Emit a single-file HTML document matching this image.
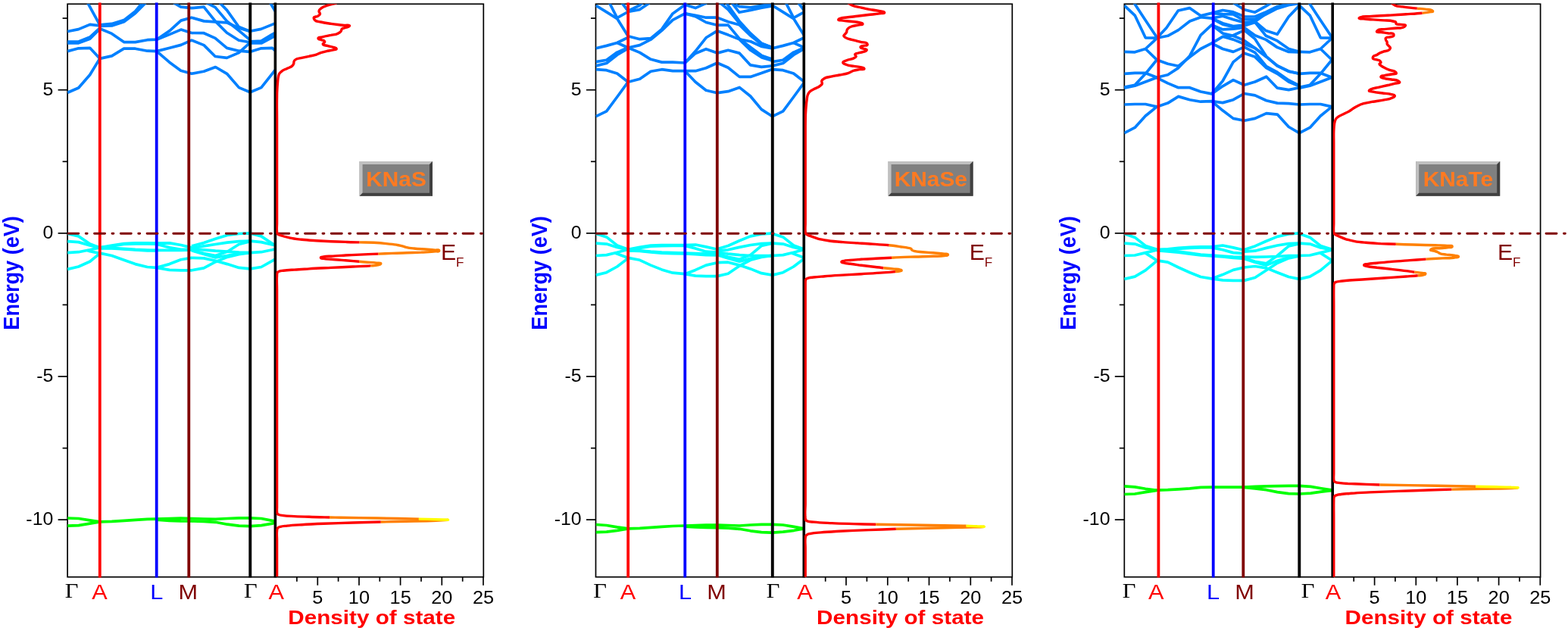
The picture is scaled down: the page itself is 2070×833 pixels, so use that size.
<!DOCTYPE html>
<html lang="en">
<head>
<meta charset="utf-8">
<title>Band structure and density of state: KNaS, KNaSe, KNaTe</title>
<style>
html,body{margin:0;padding:0;background:#fff;}
body{width:2070px;height:833px;overflow:hidden;}
svg{display:block;}
text{font-family:"Liberation Sans",sans-serif;}
.tk{font-size:24.4px;fill:#000;}
.kl{font-size:27.2px;}
.kg{font-family:"Liberation Serif",serif;font-size:27.8px;}
.dt{font-size:26.5px;font-weight:bold;fill:#ff0000;}
.et{font-size:27.1px;font-weight:bold;fill:#0000ff;}
.ef{font-size:28.8px;fill:#800000;}
.lg{font-size:27.6px;font-weight:bold;fill:#ff7a21;}
</style>
</head>
<body>
<svg width="2070" height="833" viewBox="0 0 2070 833">
<defs><clipPath id="clipall"><rect x="0" y="5.3" width="2070" height="756.4"/></clipPath></defs>
<rect width="2070" height="833" fill="#ffffff"/>
<g id="p1">
<clipPath id="bcKNaS"><rect x="89.1" y="5.3" width="274.7" height="756.4"/></clipPath>
<rect x="89.1" y="5.3" width="549.2" height="756.4" fill="none" stroke="#000" stroke-width="1.7"/>
<g fill="none" stroke="#0080ff" stroke-width="3.7" stroke-linejoin="round" stroke-linecap="butt" clip-path="url(#bcKNaS)">
<polyline points="89.2,122.3 103.7,116.0 118.7,98.7 131.7,77.4 147.6,73.9 163.6,64.2 178.6,64.2 194.5,67.2 206.8,67.6 223.7,82.2 238.7,93.3 253.1,97.2 269.1,94.3 284.5,88.5 300.0,97.7 315.5,115.6 330.2,121.8 344.9,115.6 363.3,92.4"/>
<polyline points="89.2,67.6 103.7,63.8 118.7,63.3 131.7,77.3"/>
<polyline points="206.8,67.6 224.0,63.3 238.9,59.4 252.9,53.1 269.2,59.6 284.1,74.5 299.5,76.4 315.3,69.6 329.7,56.7"/>
<polyline points="89.2,55.1 103.7,54.9 118.7,49.1 131.7,37.0"/>
<polyline points="89.2,57.0 103.7,56.8 118.7,51.2 131.7,38.2"/>
<polyline points="89.2,41.5 103.7,38.6 118.7,32.4 131.7,33.8"/>
<polyline points="115.3,2.9 131.7,32.9"/>
<polyline points="131.7,32.9 147.6,31.4 163.6,26.6 178.6,15.0 187.7,3.9"/>
<polyline points="131.7,34.3 147.6,34.0 163.6,28.7 178.6,17.4 192.1,3.9"/>
<polyline points="131.7,37.7 147.6,44.4 163.6,55.6 178.6,55.6 194.5,52.7 206.8,52.2 224.0,40.6 238.9,27.1 252.9,23.2 269.2,27.9 284.1,28.8 299.5,29.8 315.3,37.0 329.7,41.3 344.6,38.4 359.4,32.4 363.8,30.7"/>
<polyline points="206.8,52.2 224.0,45.4 238.9,39.1 252.9,43.5 269.2,43.7 284.1,50.4 299.5,63.4 315.3,67.2 329.7,68.4 344.9,63.8 359.4,63.3 363.8,67.2"/>
<polyline points="228.0,2.9 238.7,9.2 253.1,10.6 269.1,9.2 284.1,27.9 299.5,43.2 315.3,53.3 329.7,55.7"/>
<polyline points="269.2,1.9 284.1,9.6 299.5,27.9 315.3,40.4 329.7,52.4"/>
<polyline points="288.4,1.9 299.5,13.4 315.3,35.5 329.7,41.3"/>
<polyline points="330.2,54.9 344.9,54.1 359.4,45.4 363.8,43.0"/>
<polyline points="330.2,57.0 344.9,57.0 359.4,49.3 363.8,46.9"/>
<polyline points="355.6,1.9 363.8,15.5"/>
</g>
<g fill="none" stroke="#00ffff" stroke-width="3.7" stroke-linejoin="round" stroke-linecap="butt" clip-path="url(#bcKNaS)">
<polyline points="89.2,308.5 103.7,311.9 118.7,322.1 131.7,326.9"/>
<polyline points="115.3,330.4 118.7,331.7 131.7,334.4"/>
<polyline points="89.2,318.7 103.7,319.6 118.7,324.0 131.7,326.9"/>
<polyline points="89.2,333.6 103.7,332.7 118.7,329.8 131.7,326.9"/>
<polyline points="89.2,355.4 103.7,352.0 118.7,345.2 131.7,334.6"/>
<polyline points="131.7,326.9 147.6,324.0 163.6,321.6 178.6,320.9 194.5,320.9 206.8,321.1 224.0,320.9 238.9,323.5 252.9,326.9"/>
<polyline points="131.7,327.1 147.6,324.8 163.6,322.5 178.6,321.9 194.5,321.9 206.8,322.2 224.0,326.9 238.9,329.3 252.9,329.3"/>
<polyline points="131.7,327.4 147.6,327.4 163.6,328.3 178.6,329.3 194.5,330.0 206.8,330.3 224.0,330.3 238.9,330.3 252.9,329.8"/>
<polyline points="131.7,327.9 147.6,328.0 163.6,329.0 178.6,330.0 194.5,330.8 206.8,330.9"/>
<polyline points="131.7,334.1 147.6,337.5 163.6,343.3 178.6,348.6 194.5,352.5 206.8,353.4"/>
<polyline points="206.8,353.4 223.7,348.6 238.7,342.8 253.1,340.4 269.1,340.9 284.5,344.3 300.0,348.6 315.5,353.4 330.2,354.9 344.9,352.5 359.4,344.3 363.8,341.9"/>
<polyline points="206.8,353.4 223.7,356.4 238.7,356.8 253.1,356.8 269.1,353.9 284.5,345.7 300.0,339.4 315.5,335.6 330.2,333.6"/>
<polyline points="253.1,324.9 269.1,320.6 284.5,315.3 300.0,310.5 315.5,308.5 330.2,307.9 344.9,311.9 359.4,321.6 363.8,324.0"/>
<polyline points="253.1,327.4 269.1,324.9 284.5,322.5 300.0,320.1 315.5,318.7 330.2,318.2 344.9,319.6 359.4,323.0 363.8,324.0"/>
<polyline points="253.1,328.8 269.1,329.8 284.5,331.2 300.0,332.2 315.5,333.2 330.2,333.6 344.9,332.7 359.4,329.8 363.8,328.8"/>
<polyline points="253.1,330.3 269.1,334.6 284.5,337.5 300.0,332.2 315.5,322.5 330.2,318.7"/>
<polyline points="253.1,330.8 269.1,335.6 284.5,339.9 300.0,337.5 315.5,334.6 330.2,333.6"/>
</g>
<g fill="none" stroke="#00ff00" stroke-width="3.7" stroke-linejoin="round" stroke-linecap="butt" clip-path="url(#bcKNaS)">
<polyline points="89.2,684.0 103.7,684.5 118.7,686.9 131.7,688.8 147.6,688.3 163.6,687.4 178.6,686.4 194.5,685.4 206.8,685.1 223.7,684.5 238.7,684.0 253.1,684.5 269.1,685.0 284.5,685.4 300.0,684.5 315.5,683.8 330.2,683.8 344.9,684.5 359.4,687.4 363.8,688.3"/>
<polyline points="89.2,694.1 103.7,693.6 118.7,691.2 131.7,689.0"/>
<polyline points="206.8,686.1 223.7,687.4 238.7,687.9 253.1,688.0 269.1,688.3 284.5,689.3 300.0,692.2 315.5,694.1 330.2,694.6 344.9,693.6 359.4,691.2 363.8,689.8"/>
</g>
<line x1="131.8" y1="3.5" x2="131.8" y2="762.5" stroke="#ff0000" stroke-width="3.8"/>
<line x1="206.7" y1="3.5" x2="206.7" y2="762.5" stroke="#0000ff" stroke-width="3.8"/>
<line x1="249.3" y1="3.5" x2="249.3" y2="762.5" stroke="#800000" stroke-width="3.8"/>
<line x1="330.3" y1="3.5" x2="330.3" y2="762.5" stroke="#000000" stroke-width="3.9"/>
<line x1="363.4" y1="3.5" x2="363.4" y2="762.5" stroke="#000000" stroke-width="3.6"/>
<line x1="89.1" y1="308.30" x2="638.3" y2="308.30" stroke="#800000" stroke-width="2.9" stroke-linecap="round" stroke-dasharray="14 9.45 1.9 9.4" stroke-dashoffset="-0.7"/>
<clipPath id="dcKNaS"><rect x="364.3" y="5.3" width="274.5" height="756.4"/></clipPath>
<g fill="none" stroke-width="3.4" stroke-linejoin="round" stroke-linecap="butt" clip-path="url(#dcKNaS)">
<path d="M444.7 3.9C440.4 5.0 436.3 5.7 432.1 7.2C429.4 8.2 426.6 8.8 424.4 10.6C423.0 11.7 421.2 12.8 421.0 14.5C420.8 15.9 422.8 17.0 422.5 18.4C422.2 19.7 420.7 20.4 419.6 21.3C418.0 22.4 414.4 21.7 414.2 23.7C414.2 24.8 415.0 25.7 415.7 26.6C417.4 28.7 420.8 28.3 423.4 29.0C427.9 30.2 432.3 30.7 437.0 31.4C442.2 32.2 447.2 32.6 452.4 33.3C455.4 33.7 463.2 32.5 461.1 34.6C460.1 35.6 458.6 35.7 457.2 36.2C455.3 37.0 452.8 36.6 451.4 38.2C450.6 39.1 450.8 40.5 450.0 41.5C448.9 43.0 447.2 43.7 445.6 44.4C442.9 45.8 439.9 45.7 437.0 46.4C433.0 47.2 429.2 47.6 425.4 48.8C423.5 49.4 419.7 48.8 420.1 50.7C420.3 52.3 423.0 51.9 424.4 52.7C425.9 53.4 428.7 53.4 428.7 55.1C428.8 56.4 426.4 56.7 426.3 58.0C426.1 60.1 430.1 59.7 432.1 60.4C435.0 61.4 438.0 61.4 440.8 62.6C442.0 63.1 444.0 63.0 444.2 64.2C444.5 65.8 441.4 65.4 439.9 65.9C437.0 66.8 434.1 67.0 431.2 67.6C428.5 68.2 426.0 68.7 423.4 69.6C421.4 70.3 419.7 71.4 417.6 72.1C414.4 73.2 411.3 73.6 408.0 74.3C404.7 75.0 401.6 75.7 398.3 76.4C395.7 77.1 392.8 76.8 390.6 78.4C389.6 79.0 388.7 79.7 388.2 80.8C387.6 81.8 388.1 83.1 387.7 84.2C387.3 85.3 386.6 86.2 385.8 87.0C384.0 88.9 381.3 89.3 379.0 90.4C376.7 91.6 374.3 92.2 372.2 93.8C370.9 94.8 369.7 95.8 368.8 97.2C368.0 98.5 367.8 100.0 367.4 101.5C366.8 103.8 366.8 106.0 366.6 108.3C366.3 111.6 366.0 114.7 365.9 118.0C365.7 121.3 365.6 124.3 365.6 127.6C365.3 137.5 365.6 146.8 365.6 156.6C365.6 164.2 365.6 171.4 365.6 179.1C365.6 218.5 365.6 255.6 365.6 295.0C365.6 298.8 365.0 302.4 365.6 306.1C365.7 306.9 365.6 307.7 365.9 308.3C366.4 309.0 367.2 309.4 367.9 309.8C368.9 310.4 370.1 310.6 371.3 311.0C374.8 312.3 378.2 313.0 381.9 313.8C387.4 315.0 392.7 315.6 398.3 316.3C404.9 317.0 411.1 317.3 417.6 317.7C424.2 318.1 430.4 318.4 437.0 318.7C443.5 318.9 449.7 319.1 456.3 319.4C462.5 319.6 468.4 319.8 474.6 319.9" stroke="#ff0000"/>
<path d="M474.6 319.9C481.0 320.1 487.1 320.0 493.5 320.3C499.1 320.6 504.3 321.0 509.9 321.6C514.5 322.0 518.9 322.4 523.4 323.2C526.4 323.8 529.2 324.3 532.1 325.1C533.8 325.6 535.3 326.3 537.0 326.7C540.2 327.5 543.3 327.7 546.6 328.0C551.5 328.6 556.2 328.7 561.1 329.0C565.7 329.3 570.1 329.4 574.6 330.1C576.4 330.3 579.7 329.2 579.8 330.9C579.8 332.7 576.4 331.6 574.6 331.9C568.5 332.9 562.5 332.7 556.3 333.1C549.7 333.4 543.5 333.6 537.0 333.8C530.4 334.1 524.2 334.2 517.6 334.4C511.4 334.6 505.5 334.9 499.3 335.1" stroke="#ff8000"/>
<path d="M499.3 335.1C491.2 335.4 483.6 335.7 475.6 336.1C469.0 336.4 462.8 336.7 456.3 337.0C449.7 337.4 443.5 337.7 437.0 338.2C433.7 338.4 430.5 338.2 427.3 339.0C426.0 339.3 423.4 338.8 423.4 340.2C423.5 341.6 426.0 341.1 427.3 341.4C430.5 342.2 433.7 342.0 437.0 342.3C443.5 342.9 449.7 343.3 456.3 343.8C462.4 344.3 468.1 344.7 474.1 345.2" stroke="#ff0000"/>
<path d="M474.1 345.2C477.9 345.6 481.5 345.9 485.3 346.2C489.2 346.5 493.0 346.5 496.9 347.2C498.8 347.5 503.6 346.6 502.7 348.4C502.0 349.7 500.1 349.5 498.8 349.9C495.6 350.8 492.4 350.6 489.1 350.9" stroke="#ff8000"/>
<path d="M489.1 350.9C481.3 351.5 473.8 351.6 465.9 352.0C456.1 352.5 446.8 353.0 437.0 353.4C427.1 353.9 417.8 354.3 408.0 354.9C401.4 355.3 395.2 355.6 388.6 356.1C383.7 356.4 379.0 356.5 374.1 357.2C372.3 357.5 370.5 357.4 368.8 358.1C368.0 358.4 367.2 358.6 366.6 359.2C366.1 359.8 365.9 360.5 365.8 361.2C365.5 362.0 365.6 362.8 365.6 363.6C365.1 369.8 365.6 375.7 365.6 382.0C365.6 401.7 365.6 420.2 365.6 439.9C365.6 513.1 365.6 581.9 365.6 655.0C365.6 659.9 365.6 664.6 365.6 669.5C365.6 671.6 365.3 673.7 365.6 675.8C365.7 676.6 365.6 677.5 366.0 678.2C366.5 678.8 367.2 679.1 367.9 679.4C369.8 680.5 372.0 680.3 374.1 680.6C379.0 681.3 383.7 681.3 388.6 681.6C395.2 681.9 401.4 682.1 408.0 682.3C417.2 682.7 425.8 682.8 435.0 683.0" stroke="#ff0000"/>
<path d="M435.0 683.0C440.1 683.1 444.9 683.2 450.0 683.3C466.4 683.5 481.9 683.8 498.3 684.0C516.9 684.4 534.3 684.7 552.9 685.1" stroke="#ff8000"/>
<path d="M591.5 686.4C586.1 686.7 581.0 686.9 575.6 687.2C565.8 687.6 556.5 687.8 546.6 688.0C531.7 688.4 517.6 688.7 502.7 689.0" stroke="#ff8000"/>
<path d="M502.7 689.0C490.2 689.3 478.4 689.7 465.9 690.0C452.8 690.4 440.4 690.8 427.3 691.2C417.4 691.6 408.2 692.0 398.3 692.7C391.7 693.1 385.5 693.4 379.0 694.1C376.0 694.5 373.1 694.4 370.3 695.3C369.2 695.6 368.0 695.8 367.2 696.5C366.7 697.0 366.2 697.6 365.9 698.3C365.6 699.1 365.7 700.0 365.6 700.9C365.1 705.0 365.6 708.9 365.6 713.0C365.6 729.4 365.6 744.9 365.6 761.3" stroke="#ff0000"/>
<path d="M552.9 685.1C560.6 685.3 567.9 685.5 575.6 685.7C581.0 685.9 586.1 686.0 591.5 686.2" stroke="#ffff00"/>
<path d="M591.2 686.2h0.3" stroke="#ffff00" stroke-linecap="round"/>
</g>
<g stroke="#000" stroke-width="1.7">
<line x1="76.6" y1="118.7" x2="89.1" y2="118.7"/>
<line x1="76.6" y1="307.9" x2="89.1" y2="307.9"/>
<line x1="76.6" y1="497.0" x2="89.1" y2="497.0"/>
<line x1="76.6" y1="686.1" x2="89.1" y2="686.1"/>
<line x1="82.6" y1="24.1" x2="89.1" y2="24.1"/>
<line x1="82.6" y1="213.3" x2="89.1" y2="213.3"/>
<line x1="82.6" y1="402.4" x2="89.1" y2="402.4"/>
<line x1="82.6" y1="591.6" x2="89.1" y2="591.6"/>
<line x1="391.9" y1="761.7" x2="391.9" y2="767.7"/>
<line x1="419.3" y1="761.7" x2="419.3" y2="772.7"/>
<line x1="446.6" y1="761.7" x2="446.6" y2="767.7"/>
<line x1="474.0" y1="761.7" x2="474.0" y2="772.7"/>
<line x1="501.3" y1="761.7" x2="501.3" y2="767.7"/>
<line x1="528.6" y1="761.7" x2="528.6" y2="772.7"/>
<line x1="556.0" y1="761.7" x2="556.0" y2="767.7"/>
<line x1="583.3" y1="761.7" x2="583.3" y2="772.7"/>
<line x1="610.7" y1="761.7" x2="610.7" y2="767.7"/>
<line x1="638.0" y1="761.7" x2="638.0" y2="772.7"/>
</g>
<text transform="translate(70.30,126.00) scale(1.02,1)" text-anchor="end" class="tk">5</text>
<text transform="translate(70.30,315.15) scale(1.02,1)" text-anchor="end" class="tk">0</text>
<text transform="translate(70.30,504.30) scale(1.02,1)" text-anchor="end" class="tk">-5</text>
<text transform="translate(70.30,693.45) scale(1.02,1)" text-anchor="end" class="tk">-10</text>
<text transform="translate(419.28,796.50) scale(1.04,1)" text-anchor="middle" class="tk">5</text>
<text transform="translate(473.96,796.50) scale(1.04,1)" text-anchor="middle" class="tk">10</text>
<text transform="translate(528.64,796.50) scale(1.04,1)" text-anchor="middle" class="tk">15</text>
<text transform="translate(583.32,796.50) scale(1.04,1)" text-anchor="middle" class="tk">20</text>
<text transform="translate(638.00,796.50) scale(1.04,1)" text-anchor="middle" class="tk">25</text>
<text transform="translate(94.50,789.10) scale(1.1,1)" text-anchor="middle" class="kg" fill="#000">Γ</text>
<text transform="translate(131.40,791.30) scale(1.13,1)" text-anchor="middle" class="kl" fill="#ff0000">A</text>
<text transform="translate(206.80,791.30) scale(1.13,1)" text-anchor="middle" class="kl" fill="#0000ff">L</text>
<text transform="translate(248.30,791.30) scale(1.13,1)" text-anchor="middle" class="kl" fill="#800000">M</text>
<text transform="translate(330.80,789.10) scale(1.1,1)" text-anchor="middle" class="kg" fill="#000">Γ</text>
<text transform="translate(364.80,791.30) scale(1.13,1)" text-anchor="middle" class="kl" fill="#ff0000">A</text>
<text transform="translate(490.70,824.40) scale(1.12,1)" text-anchor="middle" class="dt">Density of state</text>
<text transform="translate(25.00,360.40) scale(1.12,1) rotate(-90)" text-anchor="middle" class="et">Energy (eV)</text>
<text transform="translate(582.1,343.2) scale(1.05,1)" class="ef">E<tspan dy="8.5" dx="-0.2" font-size="16.3">F</tspan></text>
<g transform="translate(474.6,213)"><rect width="96.4" height="45.7" fill="#808080"/><polygon points="0,0 96.4,0 92.4,4 4,4 4,41.7 0,45.7" fill="#c0c0c0"/><polygon points="96.4,45.7 96.4,0 92.4,4 92.4,41.7 4,41.7 0,45.7" fill="#404040"/><text transform="translate(48.40,32.85) scale(1.08,1)" text-anchor="middle" class="lg">KNaS</text></g>
</g>
<g id="p2">
<clipPath id="bcKNaSe"><rect x="786.5" y="5.3" width="274.8" height="756.4"/></clipPath>
<rect x="786.5" y="5.3" width="549.8" height="756.4" fill="none" stroke="#000" stroke-width="1.7"/>
<g fill="none" stroke="#0080ff" stroke-width="3.7" stroke-linejoin="round" stroke-linecap="butt" clip-path="url(#bcKNaSe)">
<polyline points="786.7,7.2 800.7,15.9 814.7,24.6 829.2,47.8"/>
<polyline points="803.6,1.9 814.7,23.7"/>
<polyline points="819.5,1.9 829.2,14.5"/>
<polyline points="814.7,23.7 829.2,15.5"/>
<polyline points="786.7,63.8 800.7,60.4 814.7,56.5 829.2,49.3"/>
<polyline points="814.7,56.5 829.2,63.0"/>
<polyline points="786.7,81.6 800.7,79.2 814.7,69.1 829.2,62.8"/>
<polyline points="786.7,86.9 800.7,83.5 814.7,72.5 829.2,64.0"/>
<polyline points="786.7,91.7 800.7,92.7 814.7,97.0 829.2,108.2"/>
<polyline points="786.7,153.7 800.7,146.8 814.7,128.0 829.2,108.2"/>
<polyline points="1019.7,7.2 1033.7,15.9 1047.7,24.6 1062.2,47.8"/>
<polyline points="1036.6,1.9 1047.7,23.7"/>
<polyline points="1052.5,1.9 1062.2,14.5"/>
<polyline points="1047.7,23.7 1062.2,15.5"/>
<polyline points="1019.7,63.8 1033.7,60.4 1047.7,56.5 1062.2,49.3"/>
<polyline points="1047.7,56.5 1062.2,63.0"/>
<polyline points="1019.7,81.6 1033.7,79.2 1047.7,69.1 1062.2,62.8"/>
<polyline points="1019.7,86.9 1033.7,83.5 1047.7,72.5 1062.2,64.0"/>
<polyline points="1019.7,91.7 1033.7,92.7 1047.7,97.0 1062.2,108.2"/>
<polyline points="1019.7,153.7 1033.7,146.8 1047.7,128.0 1062.2,108.2"/>
<polyline points="829.2,15.5 844.6,12.6 857.2,3.9"/>
<polyline points="829.2,14.5 844.6,7.0 849.0,2.9"/>
<polyline points="829.2,47.8 844.6,51.7 859.1,50.7 873.6,38.6 888.1,17.9 904.3,6.3 918.1,10.6 933.0,3.9"/>
<polyline points="829.2,63.0 844.6,59.6 859.1,52.2 873.6,40.4 888.1,26.3 904.3,17.9 918.1,20.3 932.1,23.2 947.0,23.2"/>
<polyline points="829.2,63.0 844.6,69.4 859.1,78.3 873.6,82.1 888.1,82.1 904.3,83.0 918.1,67.6 932.1,49.8 947.0,40.6"/>
<polyline points="829.2,108.2 844.6,104.3 859.1,94.2 873.6,91.7 888.1,93.7 904.3,93.7 918.1,93.7 932.1,89.8 947.0,83.0"/>
<polyline points="904.3,17.9 918.1,21.7 932.1,29.5 947.0,33.3"/>
<polyline points="904.3,83.0 918.1,70.5 932.1,64.7 947.0,70.0"/>
<polyline points="904.3,93.7 918.1,108.2 932.1,119.3 947.0,122.7"/>
<polyline points="946.8,122.7 961.2,120.7 976.2,115.4 990.7,127.0 1005.2,144.4 1019.7,153.7"/>
<polyline points="946.8,83.0 961.2,89.3 976.2,101.4 990.7,101.4 1005.2,96.6 1019.7,91.3"/>
<polyline points="946.7,70.1 961.3,66.3 976.0,70.1 990.7,85.9 1005.2,88.4 1019.7,86.9"/>
<polyline points="946.7,40.8 961.3,46.1 976.0,51.9 990.9,66.3 1005.8,75.9 1019.9,80.2"/>
<polyline points="946.7,33.1 961.3,33.1 976.0,50.9 990.9,62.4 1005.8,73.5 1019.9,78.3"/>
<polyline points="946.7,23.1 961.3,28.8 976.0,32.7 990.9,47.1 1005.8,59.1 1019.9,63.4"/>
<polyline points="949.6,2.9 961.3,12.5 976.0,30.7 990.9,45.6 1005.8,57.6 1019.9,62.9"/>
<polyline points="958.2,2.9 976.0,27.9 990.9,44.2 1005.8,57.6 1019.9,62.9"/>
<polyline points="965.5,2.9 976.0,16.3 990.9,13.4 1005.8,10.1 1019.9,7.7"/>
<polyline points="970.7,5.8 976.0,8.7 990.9,9.9 1009.2,6.9 1019.9,5.8"/>
<polyline points="976.0,51.9 990.9,54.8 1005.8,61.5 1019.9,63.9"/>
</g>
<g fill="none" stroke="#00ffff" stroke-width="3.7" stroke-linejoin="round" stroke-linecap="butt" clip-path="url(#bcKNaSe)">
<polyline points="786.7,308.5 800.7,312.9 814.7,324.0 829.2,329.3"/>
<polyline points="811.3,333.8 814.7,335.1 829.2,340.6"/>
<polyline points="786.7,321.1 800.7,322.1 814.7,326.4 829.2,329.8"/>
<polyline points="786.7,337.5 800.7,336.6 814.7,333.2 829.2,329.3"/>
<polyline points="786.7,363.1 800.7,359.7 814.7,352.0 829.2,340.9"/>
<polyline points="1019.7,308.5 1033.7,312.9 1047.7,324.0 1062.2,329.3"/>
<polyline points="1044.3,333.8 1047.7,335.1 1062.2,340.6"/>
<polyline points="1019.7,321.1 1033.7,322.1 1047.7,326.4 1062.2,329.8"/>
<polyline points="1019.7,337.5 1033.7,336.6 1047.7,333.2 1062.2,329.3"/>
<polyline points="1019.7,363.1 1033.7,359.7 1047.7,352.0 1062.2,340.9"/>
<polyline points="829.2,329.3 844.6,326.4 859.1,324.0 873.6,323.5 888.1,323.5 904.3,323.5 918.1,323.0 932.1,325.9 947.0,329.3"/>
<polyline points="829.2,329.6 844.6,327.4 859.1,325.1 873.6,324.6 888.1,324.5 904.3,324.5 918.1,327.9 932.1,332.2 947.0,333.2"/>
<polyline points="829.2,330.3 844.6,330.8 859.1,332.2 873.6,333.2 888.1,333.6 904.3,334.1 918.1,334.6 932.1,335.1 947.0,335.6"/>
<polyline points="829.2,330.8 844.6,331.5 859.1,333.0 873.6,334.1 888.1,334.6 904.3,335.0 918.1,335.6 932.1,336.6 947.0,337.0"/>
<polyline points="829.2,340.4 844.6,343.3 859.1,350.1 873.6,355.9 888.1,360.2 904.3,361.7 918.1,356.4 932.1,350.1 947.0,346.7"/>
<polyline points="904.3,361.7 918.1,364.1 932.1,364.6 947.0,364.6"/>
<polyline points="946.8,328.8 961.2,324.5 976.2,317.7 990.7,311.9 1005.2,309.0 1019.7,307.9"/>
<polyline points="946.8,331.2 961.2,329.8 976.2,326.4 990.7,323.5 1005.2,321.6 1019.7,321.1"/>
<polyline points="946.8,333.2 961.2,335.1 976.2,336.6 990.7,337.5 1005.2,337.5 1019.7,337.5"/>
<polyline points="946.8,335.6 961.2,339.4 976.2,342.3 990.7,336.6 1005.2,324.5 1019.7,321.1"/>
<polyline points="946.8,336.6 961.2,340.9 976.2,345.2 990.7,341.4 1005.2,338.5 1019.7,337.5"/>
<polyline points="946.8,346.7 961.2,346.2 976.2,350.1 990.7,354.9 1005.2,360.7 1019.7,363.1"/>
<polyline points="946.8,364.6 961.2,361.2 976.2,351.0 990.7,343.3 1005.2,339.4 1019.7,337.5"/>
</g>
<g fill="none" stroke="#00ff00" stroke-width="3.7" stroke-linejoin="round" stroke-linecap="butt" clip-path="url(#bcKNaSe)">
<polyline points="786.7,692.5 800.7,693.5 814.7,695.9 829.2,697.9 844.6,697.4 859.1,696.4 873.6,695.4 888.1,694.5 904.3,694.0 918.1,693.5 932.3,693.0 946.8,693.2 961.2,693.5 976.2,694.0 990.7,693.0 1005.2,692.3 1019.7,692.3 1033.7,693.0 1048.2,695.4 1061.2,697.9"/>
<polyline points="786.7,702.7 800.7,702.2 814.7,700.3 829.2,698.0"/>
<polyline points="904.2,695.1 918.1,695.9 932.3,696.4 946.8,696.7 961.2,697.1 976.2,698.3 990.7,700.8 1005.2,702.7 1019.7,703.2 1033.7,702.2 1048.2,700.3 1061.2,698.0"/>
</g>
<line x1="829.2" y1="3.5" x2="829.2" y2="762.5" stroke="#ff0000" stroke-width="3.8"/>
<line x1="904.3" y1="3.5" x2="904.3" y2="762.5" stroke="#0000ff" stroke-width="3.8"/>
<line x1="946.8" y1="3.5" x2="946.8" y2="762.5" stroke="#800000" stroke-width="3.8"/>
<line x1="1019.8" y1="3.5" x2="1019.8" y2="762.5" stroke="#000000" stroke-width="3.9"/>
<line x1="1061.3" y1="3.5" x2="1061.3" y2="762.5" stroke="#000000" stroke-width="3.6"/>
<line x1="786.5" y1="308.30" x2="1336.3" y2="308.30" stroke="#800000" stroke-width="2.9" stroke-linecap="round" stroke-dasharray="14 9.45 1.9 9.4" stroke-dashoffset="-0.7"/>
<clipPath id="dcKNaSe"><rect x="1061.8" y="5.3" width="275.0" height="756.4"/></clipPath>
<g fill="none" stroke-width="3.4" stroke-linejoin="round" stroke-linecap="butt" clip-path="url(#dcKNaSe)">
<path d="M1117.6 2.4C1120.3 4.1 1122.5 6.0 1125.4 7.2C1129.1 8.9 1133.0 9.2 1137.0 10.1C1141.9 11.3 1146.5 12.1 1151.5 13.0C1155.4 13.8 1159.2 14.0 1163.0 15.0C1164.5 15.4 1166.6 14.9 1167.4 16.2C1168.6 18.1 1163.3 17.4 1161.1 17.9C1156.3 18.9 1151.5 18.9 1146.6 19.5C1141.7 20.1 1137.1 20.7 1132.1 21.3C1127.2 21.9 1122.5 22.3 1117.6 23.0C1114.7 23.4 1111.6 23.0 1108.9 24.4C1108.2 24.7 1107.5 25.0 1107.0 25.6C1105.8 27.2 1110.8 26.6 1112.8 27.1C1117.0 27.9 1121.1 27.9 1125.4 28.5C1128.7 28.9 1131.8 29.0 1135.0 29.9C1136.4 30.4 1138.5 30.0 1138.9 31.4C1139.3 33.1 1135.7 32.4 1134.1 32.9C1131.5 33.5 1128.9 33.5 1126.3 34.3C1124.3 34.9 1122.2 35.3 1120.5 36.7C1119.5 37.5 1118.6 38.4 1118.1 39.6C1117.7 40.5 1118.0 41.6 1117.6 42.5C1117.2 43.5 1116.4 44.1 1115.7 44.9C1115.0 45.8 1113.8 46.3 1113.8 47.3C1113.8 48.6 1115.6 49.0 1116.7 49.8C1119.3 51.5 1122.4 51.8 1125.4 52.7C1129.3 53.8 1133.0 54.6 1137.0 55.6C1139.6 56.2 1143.5 55.1 1144.7 57.5C1144.9 58.0 1145.1 58.4 1145.2 58.9C1145.3 60.8 1141.6 59.7 1139.9 60.4C1138.5 60.9 1136.0 60.8 1136.0 62.3C1136.0 63.8 1138.5 63.6 1139.9 64.2C1141.3 64.9 1144.4 64.6 1144.2 66.2C1144.0 67.5 1142.0 67.6 1140.8 68.1C1138.4 69.3 1135.6 69.1 1133.1 70.0C1131.6 70.6 1128.8 70.4 1128.7 72.0C1128.7 72.9 1130.2 73.4 1130.2 74.4C1130.1 75.7 1128.4 76.1 1127.3 76.8C1124.4 78.6 1120.7 78.2 1117.6 79.7C1115.9 80.5 1112.8 80.6 1112.8 82.6C1112.8 84.5 1115.9 84.7 1117.6 85.5C1120.7 86.8 1124.0 86.8 1127.3 87.4C1130.6 88.0 1133.8 87.9 1137.0 88.8C1138.3 89.3 1140.2 89.0 1140.8 90.3C1141.8 92.1 1137.0 91.3 1135.0 91.7C1132.4 92.3 1129.8 92.4 1127.3 93.2C1124.5 94.0 1122.3 95.7 1119.6 96.6C1115.8 97.9 1111.9 98.2 1108.0 99.0C1104.7 99.7 1101.6 100.2 1098.3 100.9C1095.0 101.7 1091.5 101.5 1088.7 103.3C1087.2 104.3 1085.3 105.0 1084.8 106.7C1084.4 108.0 1085.6 109.3 1085.3 110.6C1084.8 112.1 1083.2 113.0 1081.9 114.0C1079.8 115.5 1077.4 116.1 1075.1 117.3C1073.1 118.4 1070.9 119.1 1069.3 120.7C1068.1 122.0 1067.2 123.5 1066.4 125.1C1065.3 127.5 1065.4 130.2 1065.0 132.8C1064.5 136.1 1064.3 139.2 1064.0 142.5C1063.7 145.7 1063.6 148.8 1063.4 152.1C1063.2 157.1 1063.3 161.7 1063.2 166.6C1063.2 170.8 1063.2 174.8 1063.2 179.1C1063.2 218.5 1063.2 255.6 1063.2 295.0C1063.2 298.8 1062.7 302.4 1063.2 306.1C1063.3 306.9 1063.2 307.7 1063.6 308.3C1064.0 309.0 1064.8 309.3 1065.5 309.8C1066.7 310.6 1068.0 310.9 1069.3 311.4C1072.5 312.7 1075.6 313.8 1079.0 314.8C1083.8 316.2 1088.5 316.9 1093.5 317.7C1100.0 318.7 1106.2 319.1 1112.8 319.6C1119.4 320.2 1125.6 320.5 1132.1 320.9C1138.7 321.3 1144.9 321.6 1151.5 322.1C1159.0 322.6 1166.1 323.0 1173.7 323.8" stroke="#ff0000"/>
<path d="M1173.7 323.8C1178.8 324.3 1183.6 325.0 1188.7 325.7C1191.9 326.2 1195.1 326.4 1198.3 327.2C1199.8 327.5 1201.5 327.3 1202.7 328.3C1203.3 328.9 1203.5 329.7 1204.1 330.3C1205.2 331.2 1206.6 331.3 1208.0 331.7C1211.1 332.6 1214.3 332.4 1217.6 332.7C1222.6 333.1 1227.2 333.4 1232.1 333.8C1237.1 334.3 1241.7 334.3 1246.6 335.1C1248.3 335.4 1251.3 334.4 1251.5 336.1C1251.6 337.8 1248.3 337.1 1246.6 337.5C1241.8 338.6 1237.1 338.1 1232.1 338.3C1223.9 338.7 1216.2 338.7 1208.0 339.0C1201.4 339.2 1195.2 339.3 1188.7 339.6C1184.7 339.8 1181.0 340.0 1177.0 340.2" stroke="#ff8000"/>
<path d="M1177.0 340.2C1170.0 340.6 1163.3 340.8 1156.3 341.2C1149.7 341.5 1143.5 341.9 1137.0 342.3C1132.0 342.7 1127.4 343.0 1122.5 343.5C1119.5 343.8 1116.6 343.5 1113.8 344.5C1112.8 344.8 1110.9 344.6 1110.9 345.7C1110.9 346.8 1112.8 346.6 1113.8 347.0C1116.6 348.0 1119.5 347.9 1122.5 348.3C1127.4 349.1 1132.0 349.6 1137.0 350.3C1141.9 350.9 1146.5 351.4 1151.5 352.0C1156.5 352.6 1161.3 353.2 1166.4 353.7" stroke="#ff0000"/>
<path d="M1166.4 353.7C1171.2 354.2 1175.7 354.6 1180.4 355.1C1183.1 355.4 1185.7 355.2 1188.2 356.1C1188.8 356.3 1189.8 356.2 1190.1 356.8C1190.6 357.8 1188.2 357.7 1187.2 358.0C1185.5 358.5 1183.7 358.4 1181.9 358.6" stroke="#ff8000"/>
<path d="M1181.9 358.6C1176.5 359.1 1171.4 359.5 1165.9 359.9C1156.1 360.7 1146.8 361.1 1137.0 361.7C1127.1 362.3 1117.8 362.8 1108.0 363.4C1101.4 363.8 1095.2 364.2 1088.7 364.8C1083.7 365.2 1079.1 365.4 1074.2 366.0C1071.8 366.3 1069.6 366.2 1067.4 367.0C1066.4 367.3 1065.2 367.5 1064.5 368.2C1064.0 368.8 1063.7 369.5 1063.4 370.2C1063.2 371.0 1063.3 371.9 1063.2 372.8C1063.2 395.6 1063.2 417.1 1063.2 439.9C1063.2 516.5 1063.2 588.5 1063.2 665.0C1063.2 671.4 1062.2 677.5 1063.2 683.8C1063.4 684.7 1063.2 685.7 1063.7 686.5C1064.2 687.2 1065.1 687.6 1065.9 688.0C1068.4 689.3 1071.4 688.8 1074.2 689.1C1082.3 690.1 1090.1 690.2 1098.3 690.6C1108.2 691.1 1117.4 691.3 1127.3 691.6C1137.1 691.9 1146.4 692.1 1156.3 692.3" stroke="#ff0000"/>
<path d="M1156.3 692.3C1177.1 692.6 1196.8 692.9 1217.6 693.2C1237.3 693.5 1255.9 693.9 1275.6 694.2" stroke="#ff8000"/>
<path d="M1299.3 695.4C1294.5 695.6 1290.0 695.8 1285.3 695.9C1272.1 696.2 1259.8 696.4 1246.6 696.7C1224.9 697.2 1204.5 697.8 1182.8 698.3" stroke="#ff8000"/>
<path d="M1182.8 698.3C1170.5 698.8 1158.9 699.2 1146.6 699.6C1133.5 700.1 1121.1 700.7 1108.0 701.2C1099.8 701.7 1092.0 702.1 1083.8 702.9C1079.2 703.3 1074.8 703.4 1070.3 704.4C1068.6 704.8 1066.8 704.8 1065.5 705.8C1064.8 706.3 1064.1 706.8 1063.7 707.5C1063.3 708.2 1063.4 709.1 1063.2 709.9C1062.5 714.3 1063.2 718.5 1063.2 723.0C1063.2 739.4 1063.2 754.9 1063.2 771.3" stroke="#ff0000"/>
<path d="M1275.6 694.2C1280.5 694.4 1285.2 694.5 1290.1 694.8C1293.2 694.9 1296.2 695.1 1299.3 695.2" stroke="#ffff00"/>
<path d="M1299.0 695.2h0.3" stroke="#ffff00" stroke-linecap="round"/>
</g>
<g stroke="#000" stroke-width="1.7">
<line x1="774.0" y1="118.7" x2="786.5" y2="118.7"/>
<line x1="774.0" y1="307.9" x2="786.5" y2="307.9"/>
<line x1="774.0" y1="497.0" x2="786.5" y2="497.0"/>
<line x1="774.0" y1="686.1" x2="786.5" y2="686.1"/>
<line x1="780.0" y1="24.1" x2="786.5" y2="24.1"/>
<line x1="780.0" y1="213.3" x2="786.5" y2="213.3"/>
<line x1="780.0" y1="402.4" x2="786.5" y2="402.4"/>
<line x1="780.0" y1="591.6" x2="786.5" y2="591.6"/>
<line x1="1089.7" y1="761.7" x2="1089.7" y2="767.7"/>
<line x1="1117.0" y1="761.7" x2="1117.0" y2="772.7"/>
<line x1="1144.4" y1="761.7" x2="1144.4" y2="767.7"/>
<line x1="1171.8" y1="761.7" x2="1171.8" y2="772.7"/>
<line x1="1199.2" y1="761.7" x2="1199.2" y2="767.7"/>
<line x1="1226.5" y1="761.7" x2="1226.5" y2="772.7"/>
<line x1="1253.9" y1="761.7" x2="1253.9" y2="767.7"/>
<line x1="1281.3" y1="761.7" x2="1281.3" y2="772.7"/>
<line x1="1308.6" y1="761.7" x2="1308.6" y2="767.7"/>
<line x1="1336.0" y1="761.7" x2="1336.0" y2="772.7"/>
</g>
<text transform="translate(767.70,126.00) scale(1.02,1)" text-anchor="end" class="tk">5</text>
<text transform="translate(767.70,315.15) scale(1.02,1)" text-anchor="end" class="tk">0</text>
<text transform="translate(767.70,504.30) scale(1.02,1)" text-anchor="end" class="tk">-5</text>
<text transform="translate(767.70,693.45) scale(1.02,1)" text-anchor="end" class="tk">-10</text>
<text transform="translate(1117.04,796.50) scale(1.04,1)" text-anchor="middle" class="tk">5</text>
<text transform="translate(1171.78,796.50) scale(1.04,1)" text-anchor="middle" class="tk">10</text>
<text transform="translate(1226.52,796.50) scale(1.04,1)" text-anchor="middle" class="tk">15</text>
<text transform="translate(1281.26,796.50) scale(1.04,1)" text-anchor="middle" class="tk">20</text>
<text transform="translate(1336.00,796.50) scale(1.04,1)" text-anchor="middle" class="tk">25</text>
<text transform="translate(792.00,789.10) scale(1.1,1)" text-anchor="middle" class="kg" fill="#000">Γ</text>
<text transform="translate(829.00,791.30) scale(1.13,1)" text-anchor="middle" class="kl" fill="#ff0000">A</text>
<text transform="translate(904.50,791.30) scale(1.13,1)" text-anchor="middle" class="kl" fill="#0000ff">L</text>
<text transform="translate(946.00,791.30) scale(1.13,1)" text-anchor="middle" class="kl" fill="#800000">M</text>
<text transform="translate(1020.50,789.10) scale(1.1,1)" text-anchor="middle" class="kg" fill="#000">Γ</text>
<text transform="translate(1062.50,791.30) scale(1.13,1)" text-anchor="middle" class="kl" fill="#ff0000">A</text>
<text transform="translate(1188.55,824.40) scale(1.12,1)" text-anchor="middle" class="dt">Density of state</text>
<text transform="translate(722.40,360.40) scale(1.12,1) rotate(-90)" text-anchor="middle" class="et">Energy (eV)</text>
<text transform="translate(1279.8,343.2) scale(1.05,1)" class="ef">E<tspan dy="8.5" dx="-0.2" font-size="16.3">F</tspan></text>
<g transform="translate(1172.6,213)"><rect width="112" height="45.7" fill="#808080"/><polygon points="0,0 112,0 108,4 4,4 4,41.7 0,45.7" fill="#c0c0c0"/><polygon points="112,45.7 112,0 108,4 108,41.7 4,41.7 0,45.7" fill="#404040"/><text transform="translate(56.20,32.85) scale(1.08,1)" text-anchor="middle" class="lg">KNaSe</text></g>
</g>
<g id="p3">
<clipPath id="bcKNaTe"><rect x="1484.3" y="5.3" width="274.9" height="756.4"/></clipPath>
<rect x="1484.3" y="5.3" width="549.3" height="756.4" fill="none" stroke="#000" stroke-width="1.7"/>
<g fill="none" stroke="#0080ff" stroke-width="3.7" stroke-linejoin="round" stroke-linecap="butt" clip-path="url(#bcKNaTe)">
<polyline points="1484.2,7.2 1498.2,20.3 1512.2,49.8 1527.2,50.2"/>
<polyline points="1497.2,3.9 1499.2,7.0 1512.2,26.7 1527.2,49.3"/>
<polyline points="1484.2,68.4 1498.2,68.8 1512.2,64.5 1527.2,50.5"/>
<polyline points="1512.2,64.5 1527.2,79.0"/>
<polyline points="1484.2,97.3 1498.2,96.4 1512.2,96.4 1527.2,102.2"/>
<polyline points="1484.2,115.2 1498.2,112.3 1512.2,97.3 1527.2,79.0"/>
<polyline points="1484.2,116.2 1498.2,113.3 1512.2,108.0 1527.2,102.2"/>
<polyline points="1484.2,138.0 1498.2,137.5 1512.2,137.5 1527.2,140.9"/>
<polyline points="1484.2,175.7 1498.2,168.4 1512.2,153.0 1527.2,140.9"/>
<polyline points="1715.3,7.2 1729.3,20.3 1743.3,49.8 1758.3,50.2"/>
<polyline points="1728.3,3.9 1730.3,7.0 1743.3,26.7 1758.3,49.3"/>
<polyline points="1715.3,68.4 1729.3,68.8 1743.3,64.5 1758.3,50.5"/>
<polyline points="1743.3,64.5 1758.3,79.0"/>
<polyline points="1715.3,97.3 1729.3,96.4 1743.3,96.4 1758.3,102.2"/>
<polyline points="1715.3,115.2 1729.3,112.3 1743.3,97.3 1758.3,79.0"/>
<polyline points="1715.3,116.2 1729.3,113.3 1743.3,108.0 1758.3,102.2"/>
<polyline points="1715.3,138.0 1729.3,137.5 1743.3,137.5 1758.3,140.9"/>
<polyline points="1715.3,175.7 1729.3,168.4 1743.3,153.0 1758.3,140.9"/>
<polyline points="1527.2,50.2 1539.9,36.7 1555.4,14.0 1570.4,10.6 1585.1,20.8 1599.6,17.4 1614.2,13.5 1628.0,15.9 1642.6,21.8 1656.8,22.0 1671.3,15.9 1686.2,8.7 1701.1,5.1 1715.3,3.7"/>
<polyline points="1599.6,17.4 1614.2,18.6 1628.0,18.9 1642.6,27.1"/>
<polyline points="1527.2,50.2 1541.7,47.3 1555.7,39.6 1570.7,28.0 1585.1,22.7 1599.6,24.1 1614.2,30.8 1628.0,34.5 1642.6,33.1 1656.8,28.4 1671.3,18.3"/>
<polyline points="1599.6,24.1 1614.2,21.3 1628.0,25.7 1642.6,29.8 1656.8,28.4 1671.3,40.6 1686.2,45.3 1701.1,22.3 1715.3,7.4"/>
<polyline points="1599.6,24.4 1614.2,32.1 1628.0,35.5 1642.6,34.1 1656.8,29.4 1671.3,47.3 1686.3,53.9 1701.3,64.5 1715.3,68.4"/>
<polyline points="1527.2,102.2 1541.7,98.8 1555.7,89.6 1570.7,73.7 1585.1,46.4 1599.6,32.9 1614.2,38.9 1628.0,38.2 1642.6,36.5 1656.8,46.7 1671.3,52.4 1686.3,62.6 1701.3,68.4 1715.3,68.8"/>
<polyline points="1599.6,32.9 1614.2,44.0 1628.0,47.3 1642.6,53.4 1656.8,63.5 1671.8,75.1 1686.3,86.7 1701.3,94.0 1715.3,97.3"/>
<polyline points="1527.2,79.0 1541.7,84.3 1555.7,87.2 1570.7,75.3 1585.1,64.5 1599.6,57.2 1614.1,64.5 1628.1,68.4 1642.6,62.1 1656.8,69.3 1671.8,87.7 1686.3,95.4 1701.3,106.0 1715.3,112.8"/>
<polyline points="1599.6,57.2 1614.2,48.3 1628.0,46.7 1642.6,39.9 1656.8,51.4 1671.8,74.6 1686.3,87.2 1701.3,94.4 1715.3,97.3"/>
<polyline points="1614.2,48.3 1628.0,52.1 1642.6,58.0 1656.8,63.5 1671.8,75.1"/>
<polyline points="1527.2,102.7 1541.7,109.9 1555.7,115.7 1570.7,115.7 1585.1,121.0 1599.6,123.9 1614.1,113.8 1628.1,105.6 1642.6,112.3 1656.8,108.0 1671.8,101.2 1686.3,116.2 1701.3,118.6 1715.3,115.7"/>
<polyline points="1599.6,123.9 1614.1,107.0 1628.1,81.9 1642.6,70.3 1656.8,75.1 1671.8,89.6 1686.3,97.3 1701.3,108.0 1715.3,113.8"/>
<polyline points="1527.2,140.9 1541.7,136.1 1555.7,127.4 1570.7,131.7 1585.1,134.2 1599.6,133.7 1614.1,135.6 1628.1,131.7 1642.6,123.5 1656.8,125.9 1671.8,132.7 1686.3,136.1 1701.3,136.6 1715.3,138.0"/>
<polyline points="1599.6,133.7 1614.1,145.8 1628.1,156.4 1642.6,159.3 1656.8,156.4 1671.8,149.6 1686.3,151.1 1701.3,167.5 1715.3,175.7"/>
<polyline points="1626.7,2.7 1642.6,12.8 1656.8,16.2 1671.3,8.1 1680.1,2.7"/>
<polyline points="1642.6,25.6 1656.8,25.6 1671.3,18.9 1686.2,11.2 1701.1,6.8 1715.3,4.4"/>
</g>
<g fill="none" stroke="#00ffff" stroke-width="3.7" stroke-linejoin="round" stroke-linecap="butt" clip-path="url(#bcKNaTe)">
<polyline points="1484.2,308.5 1498.2,313.4 1512.2,324.5 1527.2,329.3"/>
<polyline points="1484.2,321.1 1498.2,322.1 1512.2,326.9 1527.2,329.8"/>
<polyline points="1484.2,337.5 1498.2,337.0 1512.2,333.6 1527.2,330.0"/>
<polyline points="1512.2,334.1 1527.2,343.8"/>
<polyline points="1484.2,368.4 1498.2,365.1 1512.2,356.8 1527.2,344.3"/>
<polyline points="1715.3,308.5 1729.3,313.4 1743.3,324.5 1758.3,329.3"/>
<polyline points="1715.3,321.1 1729.3,322.1 1743.3,326.9 1758.3,329.8"/>
<polyline points="1715.3,337.5 1729.3,337.0 1743.3,333.6 1758.3,330.0"/>
<polyline points="1743.3,334.1 1758.3,343.8"/>
<polyline points="1715.3,368.4 1729.3,365.1 1743.3,356.8 1758.3,344.3"/>
<polyline points="1527.2,329.6 1541.7,328.8 1555.7,327.4 1570.7,326.4 1585.1,325.9 1599.6,325.9 1614.1,324.0 1628.1,326.9 1642.6,330.3"/>
<polyline points="1527.2,329.8 1541.7,329.4 1555.7,328.3 1570.7,327.4 1585.1,326.9 1599.6,326.9 1614.1,329.8 1628.1,333.6 1642.6,334.6"/>
<polyline points="1527.2,330.3 1541.7,331.2 1555.7,332.2 1570.7,334.1 1585.1,336.1 1599.6,337.0 1614.1,338.0 1628.1,339.0 1642.6,339.4"/>
<polyline points="1527.2,330.6 1541.7,331.9 1555.7,333.2 1570.7,335.1 1585.1,337.0 1599.6,337.8 1614.1,339.0 1628.1,340.4 1642.6,341.4"/>
<polyline points="1527.2,343.8 1541.7,346.2 1555.7,353.0 1570.7,359.7 1585.1,365.5 1599.6,367.9 1614.1,362.6 1628.1,356.4 1642.6,353.0"/>
<polyline points="1599.6,367.9 1614.1,369.9 1628.1,370.4 1642.6,370.4"/>
<polyline points="1642.3,329.8 1656.8,324.9 1671.8,318.2 1686.3,312.4 1701.3,309.0 1715.3,307.9"/>
<polyline points="1642.3,332.2 1656.8,331.2 1671.8,327.4 1686.3,324.0 1701.3,321.6 1715.3,321.1"/>
<polyline points="1642.3,339.0 1656.8,339.4 1671.8,339.0 1686.3,338.5 1701.3,337.5 1715.3,337.5"/>
<polyline points="1642.3,340.4 1656.8,345.2 1671.8,347.7 1686.3,337.5 1701.3,324.9 1715.3,321.6"/>
<polyline points="1642.3,341.4 1656.8,346.2 1671.8,350.1 1686.3,344.3 1701.3,339.9 1715.3,337.5"/>
<polyline points="1642.3,353.0 1656.8,351.5 1671.8,353.9 1686.3,359.7 1701.3,365.5 1715.3,368.4"/>
<polyline points="1642.3,370.4 1656.8,366.5 1671.8,356.8 1686.3,347.2 1701.3,340.9 1715.3,338.0"/>
</g>
<g fill="none" stroke="#00ff00" stroke-width="3.7" stroke-linejoin="round" stroke-linecap="butt" clip-path="url(#bcKNaTe)">
<polyline points="1484.2,641.9 1498.2,642.9 1512.2,645.3 1527.2,647.2 1541.7,646.7 1555.7,645.8 1570.7,644.8 1585.1,643.4 1599.6,643.1 1614.1,643.1 1628.1,643.1 1642.6,643.1 1656.8,642.4 1671.8,641.9 1686.3,641.6 1701.3,641.4 1715.3,641.4 1730.3,642.4 1744.3,644.8 1759.2,647.2"/>
<polyline points="1484.2,652.5 1498.2,652.0 1512.2,649.6 1527.2,647.4"/>
<polyline points="1642.3,643.4 1656.8,644.8 1671.8,646.7 1686.3,649.6 1701.3,651.6 1715.3,652.0 1730.3,651.1 1744.3,649.1 1759.2,647.4"/>
</g>
<line x1="1529.4" y1="3.5" x2="1529.4" y2="762.5" stroke="#ff0000" stroke-width="3.8"/>
<line x1="1601.7" y1="3.5" x2="1601.7" y2="762.5" stroke="#0000ff" stroke-width="3.8"/>
<line x1="1641.3" y1="3.5" x2="1641.3" y2="762.5" stroke="#800000" stroke-width="3.8"/>
<line x1="1715.3" y1="3.5" x2="1715.3" y2="762.5" stroke="#000000" stroke-width="3.9"/>
<line x1="1759.2" y1="3.5" x2="1759.2" y2="762.5" stroke="#000000" stroke-width="3.6"/>
<line x1="1484.3" y1="308.30" x2="2070" y2="308.30" stroke="#800000" stroke-width="2.9" stroke-linecap="round" stroke-dasharray="14 9.45 1.9 9.4" stroke-dashoffset="-0.7"/>
<clipPath id="dcKNaTe"><rect x="1759.7" y="5.3" width="274.4" height="756.4"/></clipPath>
<g fill="none" stroke-width="3.4" stroke-linejoin="round" stroke-linecap="butt" clip-path="url(#dcKNaTe)">
<path d="M1835.0 2.4C1837.3 4.1 1839.2 6.1 1841.8 7.2C1844.8 8.6 1848.2 8.4 1851.5 8.9C1854.7 9.4 1857.8 9.8 1861.1 10.1C1864.4 10.5 1867.5 10.8 1870.8 11.1" stroke="#ff0000"/>
<path d="M1870.8 11.1C1875.0 11.5 1879.1 11.7 1883.3 12.4C1885.6 12.7 1888.1 12.4 1890.1 13.5C1890.6 13.8 1891.2 14.0 1891.5 14.5C1892.4 15.8 1888.7 15.5 1887.2 15.9C1884.0 16.8 1880.8 16.8 1877.5 17.2" stroke="#ff8000"/>
<path d="M1877.5 17.2C1870.3 18.0 1863.5 18.3 1856.3 18.8C1848.1 19.4 1840.3 19.8 1832.1 20.3C1823.9 20.8 1816.2 21.1 1808.0 21.7C1804.0 22.0 1800.0 21.2 1796.4 22.7C1795.7 23.0 1795.0 23.2 1794.4 23.7C1793.0 25.1 1798.3 24.6 1800.2 24.9C1804.5 25.7 1808.5 25.6 1812.8 25.9C1817.7 26.2 1822.4 26.4 1827.3 26.9C1831.2 27.2 1835.1 26.9 1838.9 28.0C1840.2 28.4 1842.4 28.1 1842.8 29.5C1842.9 29.9 1842.7 30.3 1842.8 30.7C1843.1 33.1 1847.2 31.8 1849.5 32.4C1851.5 32.9 1856.3 32.2 1855.3 34.0C1854.9 34.8 1854.1 35.1 1853.4 35.6C1850.1 37.8 1845.7 36.7 1841.8 37.2C1836.9 37.8 1832.2 38.0 1827.3 38.6C1824.3 39.1 1820.7 37.9 1818.6 40.1C1818.2 40.5 1817.8 40.9 1817.6 41.4C1816.9 43.2 1821.5 42.2 1823.4 42.5C1826.7 43.1 1829.8 43.3 1833.1 44.0C1835.4 44.4 1839.3 43.1 1839.9 45.4C1840.0 46.0 1840.0 46.6 1839.9 47.1C1839.4 48.8 1836.7 48.2 1835.0 48.8C1833.1 49.5 1829.6 48.7 1829.2 50.7C1829.1 51.5 1829.4 52.4 1829.7 53.1C1830.0 54.0 1830.9 54.6 1831.2 55.6C1831.4 56.4 1830.9 57.2 1831.2 58.0C1831.5 59.0 1832.4 59.6 1833.1 60.4C1833.9 61.4 1835.5 62.0 1835.5 63.3C1835.5 64.2 1834.7 65.0 1834.1 65.7C1832.2 67.8 1828.9 67.2 1826.3 68.1C1824.7 68.7 1823.1 69.2 1821.5 70.0C1820.1 70.8 1819.0 71.7 1817.6 72.5C1816.0 73.4 1813.6 73.2 1812.8 74.8C1812.5 75.4 1812.2 76.1 1812.3 76.8C1812.5 78.4 1815.2 78.1 1816.7 78.7C1818.4 79.4 1820.8 79.1 1822.0 80.6C1822.4 81.2 1823.0 81.8 1823.0 82.6C1822.9 83.5 1821.1 83.6 1821.0 84.5C1820.9 85.6 1822.5 86.2 1823.4 86.9C1824.9 88.1 1826.6 88.9 1828.3 89.8C1830.5 91.0 1832.7 91.9 1835.0 92.7C1837.3 93.5 1839.9 93.1 1841.8 94.6C1842.3 95.1 1842.9 95.5 1843.2 96.1C1844.3 98.1 1839.1 97.5 1837.0 98.0C1833.7 98.8 1830.5 98.8 1827.3 99.8C1825.8 100.2 1823.0 99.8 1823.0 101.4C1822.9 103.0 1825.8 102.8 1827.3 103.3C1830.4 104.4 1833.7 104.4 1837.0 105.0C1839.9 105.5 1843.1 105.1 1845.7 106.7C1846.3 107.1 1847.2 107.5 1847.6 108.2C1848.6 110.0 1843.8 109.5 1841.8 110.1C1838.5 111.1 1835.4 111.7 1832.1 112.5C1827.9 113.5 1823.8 114.4 1819.6 115.4C1816.3 116.2 1812.9 116.3 1809.9 117.8C1809.1 118.3 1808.0 118.4 1807.5 119.3C1806.5 121.0 1811.0 120.7 1812.8 121.2C1816.9 122.4 1821.1 122.4 1825.4 123.0C1829.3 123.5 1833.2 123.3 1837.0 124.6C1838.5 125.1 1841.0 124.9 1841.3 126.5C1841.6 128.3 1838.5 128.6 1837.0 129.4C1833.9 131.0 1830.6 131.1 1827.3 131.8C1822.4 132.9 1817.7 133.4 1812.8 134.2C1808.5 135.0 1804.4 135.4 1800.2 136.7C1797.5 137.5 1795.0 138.4 1792.5 139.7C1790.5 140.7 1788.6 141.8 1786.7 143.0C1784.7 144.3 1783.0 145.7 1780.9 146.9C1778.7 148.2 1776.5 149.1 1774.2 150.3C1771.9 151.4 1769.5 152.2 1767.4 153.7C1766.0 154.7 1764.5 155.6 1763.5 157.1C1762.8 158.2 1762.5 159.6 1762.1 160.9C1761.5 162.8 1761.4 164.7 1761.2 166.7C1761.0 169.0 1760.9 171.2 1760.8 173.5C1760.6 178.4 1760.8 183.0 1760.8 188.0C1760.8 197.8 1760.8 207.1 1760.8 217.0C1760.8 223.8 1760.8 230.2 1760.8 237.0C1760.8 256.7 1760.8 275.3 1760.8 295.0C1760.8 298.8 1760.2 302.4 1760.8 306.1C1761.0 306.9 1760.9 307.7 1761.3 308.3C1761.8 309.1 1762.7 309.5 1763.5 310.0C1764.8 310.8 1766.1 311.3 1767.4 311.9C1770.6 313.4 1773.7 314.7 1777.0 315.8C1780.9 317.0 1784.7 317.9 1788.7 318.7C1793.5 319.6 1798.2 319.9 1803.1 320.3C1809.7 320.9 1815.9 321.2 1822.5 321.6C1829.4 321.9 1835.9 322.1 1842.8 322.3" stroke="#ff0000"/>
<path d="M1842.8 322.3C1850.6 322.6 1858.1 322.8 1865.9 323.0C1875.8 323.3 1885.1 323.5 1894.9 323.8C1900.8 324.0 1906.5 323.5 1912.3 324.5C1914.0 324.7 1917.1 323.8 1917.2 325.4C1917.3 327.1 1914.0 326.3 1912.3 326.7C1908.1 327.6 1904.0 327.3 1899.8 327.7C1896.5 328.0 1893.0 327.0 1890.1 328.6C1889.6 328.9 1889.0 329.1 1888.7 329.6C1887.7 330.9 1891.5 330.7 1893.0 331.2C1894.6 331.8 1896.3 331.9 1897.8 332.7C1898.9 333.2 1899.7 334.1 1900.7 334.6C1903.4 336.0 1906.5 335.6 1909.4 336.1C1913.3 336.6 1917.1 336.6 1921.0 337.5C1922.5 337.8 1925.3 337.1 1925.4 338.7C1925.4 340.2 1922.5 339.6 1921.0 339.9C1915.6 341.2 1910.2 340.6 1904.6 340.9C1897.0 341.3 1889.9 341.7 1882.4 342.1" stroke="#ff8000"/>
<path d="M1882.4 342.1C1875.1 342.6 1868.3 343.1 1861.1 343.6C1852.9 344.2 1845.2 344.7 1837.0 345.4C1830.4 346.0 1824.2 346.5 1817.6 347.2C1813.4 347.6 1809.2 347.5 1805.1 348.6C1803.6 349.0 1800.7 348.5 1800.7 350.1C1800.7 351.6 1803.6 351.1 1805.1 351.5C1809.2 352.7 1813.4 352.6 1817.6 353.2C1824.2 354.0 1830.4 354.6 1837.0 355.4C1843.5 356.1 1849.7 356.7 1856.3 357.6C1860.1 358.1 1863.6 358.7 1867.4 359.2" stroke="#ff0000"/>
<path d="M1867.4 359.2C1870.8 359.7 1874.1 359.8 1877.5 360.5C1879.0 360.8 1882.2 360.2 1881.9 361.7C1881.6 362.9 1879.7 362.8 1878.5 363.1C1876.3 363.8 1874.0 363.6 1871.7 363.8" stroke="#ff8000"/>
<path d="M1871.7 363.8C1866.5 364.3 1861.5 364.6 1856.3 365.0C1846.4 365.7 1837.1 366.4 1827.3 367.0C1817.4 367.7 1808.2 368.3 1798.3 369.0C1791.7 369.4 1785.5 369.7 1779.0 370.3C1775.4 370.6 1771.9 370.7 1768.4 371.4C1766.7 371.7 1765.0 371.7 1763.5 372.4C1762.8 372.8 1762.1 373.1 1761.6 373.8C1761.1 374.4 1761.1 375.2 1760.9 375.9C1760.7 376.9 1760.9 377.8 1760.8 378.8C1760.6 387.0 1760.8 394.8 1760.8 403.0C1760.8 432.5 1760.8 460.4 1760.8 489.9C1760.8 516.1 1760.8 540.8 1760.8 567.0C1760.8 586.7 1760.8 605.3 1760.8 625.0C1760.8 627.8 1760.4 630.5 1760.8 633.2C1760.9 633.9 1760.8 634.6 1761.2 635.2C1761.6 635.9 1762.4 636.1 1763.0 636.5C1764.9 637.5 1767.2 637.3 1769.3 637.6C1775.8 638.5 1782.1 638.5 1788.7 638.8C1799.8 639.2 1810.3 639.6 1821.5 640.0" stroke="#ff0000"/>
<path d="M1821.5 640.0C1847.6 640.4 1872.2 640.8 1898.3 641.2C1915.2 641.6 1931.2 641.9 1948.1 642.2" stroke="#ff8000"/>
<path d="M2004.1 644.1C1994.4 644.4 1985.3 644.8 1975.6 645.0C1965.7 645.2 1956.5 645.4 1946.6 645.6C1936.3 645.7 1926.5 645.9 1916.2 646.1" stroke="#ff8000"/>
<path d="M1916.2 646.1C1905.7 646.4 1895.8 646.7 1885.3 647.0C1872.1 647.5 1859.8 647.9 1846.6 648.4C1833.5 648.9 1821.1 649.4 1808.0 649.9C1799.8 650.3 1792.0 650.6 1783.8 651.3C1779.2 651.6 1774.8 651.8 1770.3 652.5C1768.3 652.9 1766.3 652.9 1764.5 653.7C1763.5 654.1 1762.4 654.3 1761.8 655.1C1761.3 655.8 1761.1 656.6 1760.9 657.4C1760.7 658.5 1760.8 659.6 1760.8 660.8C1760.6 668.3 1760.8 675.4 1760.8 683.0C1760.8 712.5 1760.8 740.4 1760.8 769.9" stroke="#ff0000"/>
<path d="M1948.1 642.2C1957.4 642.4 1966.2 642.6 1975.6 642.8C1982.2 642.9 1988.4 642.9 1994.9 643.3C1998.1 643.4 2001.0 643.6 2004.1 643.8" stroke="#ffff00"/>
<path d="M2003.8 643.8h0.3" stroke="#ffff00" stroke-linecap="round"/>
</g>
<g stroke="#000" stroke-width="1.7">
<line x1="1471.8" y1="118.7" x2="1484.3" y2="118.7"/>
<line x1="1471.8" y1="307.9" x2="1484.3" y2="307.9"/>
<line x1="1471.8" y1="497.0" x2="1484.3" y2="497.0"/>
<line x1="1471.8" y1="686.1" x2="1484.3" y2="686.1"/>
<line x1="1477.8" y1="24.1" x2="1484.3" y2="24.1"/>
<line x1="1477.8" y1="213.3" x2="1484.3" y2="213.3"/>
<line x1="1477.8" y1="402.4" x2="1484.3" y2="402.4"/>
<line x1="1477.8" y1="591.6" x2="1484.3" y2="591.6"/>
<line x1="1787.2" y1="761.7" x2="1787.2" y2="767.7"/>
<line x1="1814.6" y1="761.7" x2="1814.6" y2="772.7"/>
<line x1="1841.9" y1="761.7" x2="1841.9" y2="767.7"/>
<line x1="1869.3" y1="761.7" x2="1869.3" y2="772.7"/>
<line x1="1896.6" y1="761.7" x2="1896.6" y2="767.7"/>
<line x1="1923.9" y1="761.7" x2="1923.9" y2="772.7"/>
<line x1="1951.3" y1="761.7" x2="1951.3" y2="767.7"/>
<line x1="1978.6" y1="761.7" x2="1978.6" y2="772.7"/>
<line x1="2006.0" y1="761.7" x2="2006.0" y2="767.7"/>
<line x1="2033.3" y1="761.7" x2="2033.3" y2="772.7"/>
</g>
<text transform="translate(1465.50,126.00) scale(1.02,1)" text-anchor="end" class="tk">5</text>
<text transform="translate(1465.50,315.15) scale(1.02,1)" text-anchor="end" class="tk">0</text>
<text transform="translate(1465.50,504.30) scale(1.02,1)" text-anchor="end" class="tk">-5</text>
<text transform="translate(1465.50,693.45) scale(1.02,1)" text-anchor="end" class="tk">-10</text>
<text transform="translate(1814.58,796.50) scale(1.04,1)" text-anchor="middle" class="tk">5</text>
<text transform="translate(1869.26,796.50) scale(1.04,1)" text-anchor="middle" class="tk">10</text>
<text transform="translate(1923.94,796.50) scale(1.04,1)" text-anchor="middle" class="tk">15</text>
<text transform="translate(1978.62,796.50) scale(1.04,1)" text-anchor="middle" class="tk">20</text>
<text transform="translate(2033.30,796.50) scale(1.04,1)" text-anchor="middle" class="tk">25</text>
<text transform="translate(1490.50,789.10) scale(1.1,1)" text-anchor="middle" class="kg" fill="#000">Γ</text>
<text transform="translate(1526.20,791.30) scale(1.13,1)" text-anchor="middle" class="kl" fill="#ff0000">A</text>
<text transform="translate(1601.60,791.30) scale(1.13,1)" text-anchor="middle" class="kl" fill="#0000ff">L</text>
<text transform="translate(1643.10,791.30) scale(1.13,1)" text-anchor="middle" class="kl" fill="#800000">M</text>
<text transform="translate(1726.60,789.10) scale(1.1,1)" text-anchor="middle" class="kg" fill="#000">Γ</text>
<text transform="translate(1760.00,791.30) scale(1.13,1)" text-anchor="middle" class="kl" fill="#ff0000">A</text>
<text transform="translate(1886.00,824.40) scale(1.12,1)" text-anchor="middle" class="dt">Density of state</text>
<text transform="translate(1420.20,360.40) scale(1.12,1) rotate(-90)" text-anchor="middle" class="et">Energy (eV)</text>
<text transform="translate(1977.1,343.2) scale(1.05,1)" class="ef">E<tspan dy="8.5" dx="-0.2" font-size="16.3">F</tspan></text>
<g transform="translate(1869.2,213)"><rect width="111" height="45.7" fill="#808080"/><polygon points="0,0 111,0 107,4 4,4 4,41.7 0,45.7" fill="#c0c0c0"/><polygon points="111,45.7 111,0 107,4 107,41.7 4,41.7 0,45.7" fill="#404040"/><text transform="translate(55.70,32.85) scale(1.08,1)" text-anchor="middle" class="lg">KNaTe</text></g>
</g>
</svg>
</body>
</html>
